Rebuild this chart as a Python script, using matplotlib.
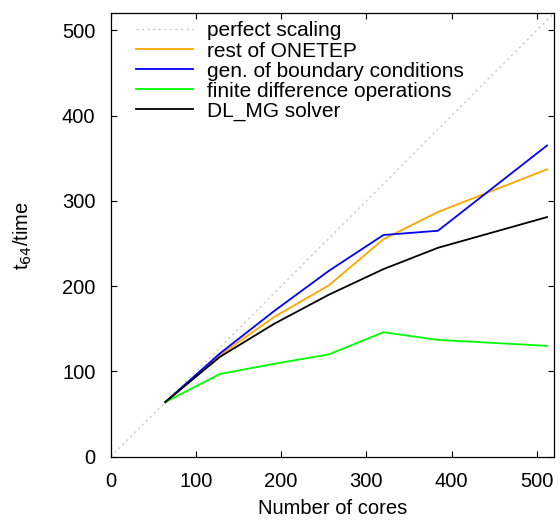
import matplotlib
matplotlib.use("Agg")
import matplotlib.pyplot as plt

plt.rcParams["font.family"] = ["Liberation Sans", "DejaVu Sans"]

# scaling data
cores = [64, 128, 192, 256, 320, 384, 512]
rest_onetep = [64, 119, 164, 201, 255, 287, 337]
boundary = [64, 121, 171, 218, 260, 265, 365]
finite_diff = [64, 97, 109, 120, 146, 137, 130]
dlmg = [64, 117, 156, 190, 220, 245, 281]
perfect = [0, 520]

fig = plt.figure(figsize=(5.6, 5.2), dpi=100)
ax = fig.add_axes([0.1977, 0.1217, 0.7913, 0.8527])

ax.plot(perfect, perfect, color="#c8c8c8", lw=1.0, ls=(0, (1.5, 2.5)),
        label="perfect scaling")
ax.plot(cores, rest_onetep, color="#ffa500", lw=1.3, label="rest of ONETEP")
ax.plot(cores, boundary, color="#0000ff", lw=1.3,
        label="gen. of boundary conditions")
ax.plot(cores, finite_diff, color="#00ff00", lw=1.3,
        label="finite difference operations")
ax.plot(cores, dlmg, color="#000000", lw=1.3, label="DL_MG solver")

ax.set_xlim(0, 520)
ax.set_ylim(0, 520)
ax.set_xticks([0, 100, 200, 300, 400, 500])
ax.set_yticks([0, 100, 200, 300, 400, 500])
ax.tick_params(direction="in", length=4, width=0.8, labelsize=14.5,
               top=True, right=True, pad=11)
for s in ax.spines.values():
    s.set_linewidth(0.9)

ax.set_xlabel("Number of cores", fontsize=14.5, labelpad=6)
ax.set_ylabel("t$_{64}$/time", fontsize=14.5, labelpad=20)

ax.legend(loc="upper left", bbox_to_anchor=(136 / 560, 1 - 21.5 / 520),
          bbox_transform=fig.transFigure, frameon=False, fontsize=15,
          handlelength=2.75, handletextpad=0.65, labelspacing=0.05,
          borderpad=0, borderaxespad=0)

fig.savefig("out.png", dpi=100)
